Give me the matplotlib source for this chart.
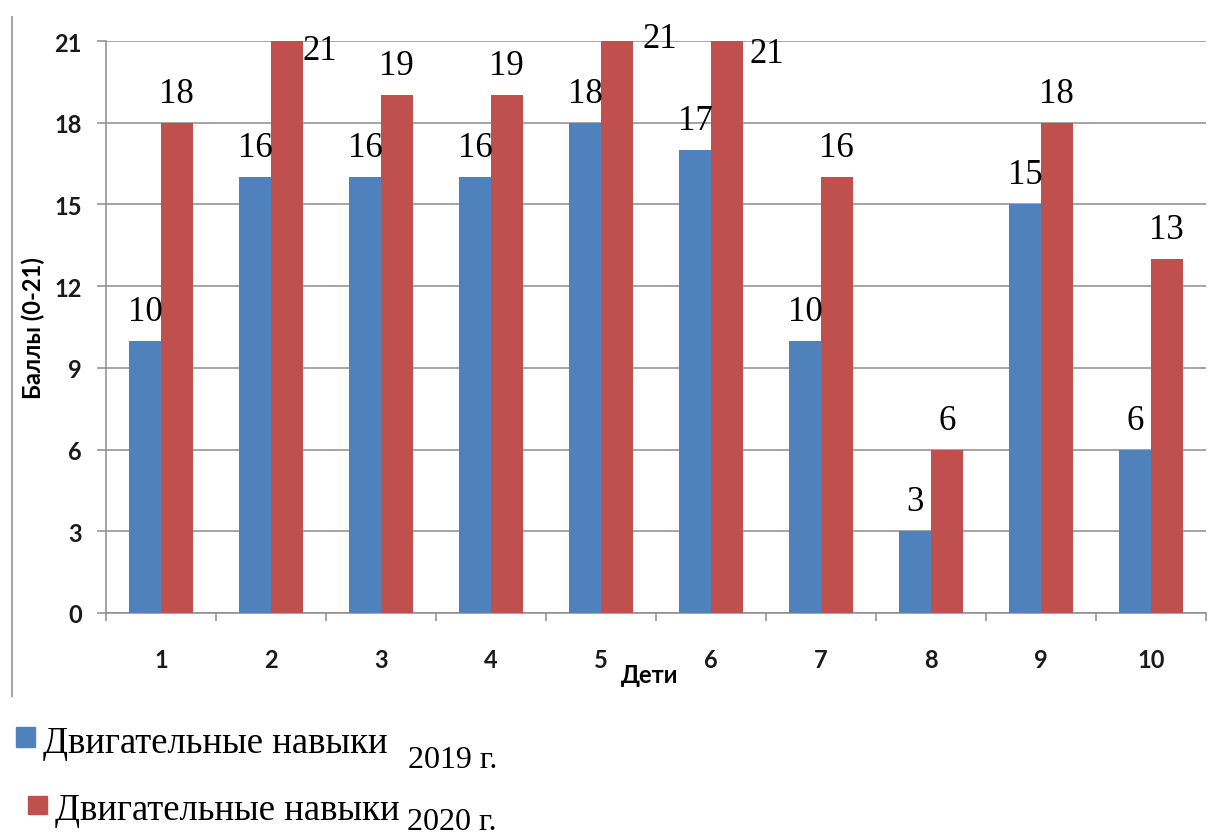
import matplotlib
matplotlib.use("Agg")
import matplotlib.pyplot as plt
from matplotlib.patches import Rectangle
from matplotlib.lines import Line2D
import numpy as np

# Data
children = ["1", "2", "3", "4", "5", "6", "7", "8", "9", "10"]
scores_2019 = [10, 16, 16, 16, 18, 17, 10, 3, 15, 6]
scores_2020 = [18, 21, 19, 19, 21, 21, 16, 6, 18, 13]
y_ticks = [0, 3, 6, 9, 12, 15, 18, 21]
series_name = "Двигательные навыки"
year_2019 = "2019 г."
year_2020 = "2020 г."
x_title = "Дети"
y_title = "Баллы (0-21)"

BLUE = "#4F81BD"
RED = "#C0504D"
GRID = "#8C8C8C"

W, H = 1216, 837
fig = plt.figure(figsize=(W / 100, H / 100), dpi=100)
fig.patch.set_facecolor("white")


def px(x, y):
    """Pixel position (from top-left) to figure fraction."""
    return x / W, 1 - y / H


ax = fig.add_axes([106 / W, 1 - 614 / H, 1100 / W, 572 / H])

sans = ["Lato", "Open Sans", "DejaVu Sans"]
serif = ["Liberation Serif", "DejaVu Serif"]
TICK_FS = 17

x = np.arange(len(children))
w = 0.287
bars_a = ax.bar(x - w / 2, scores_2019, width=w, color=BLUE, zorder=3)
bars_b = ax.bar(x + w / 2, scores_2020, width=w, color=RED, zorder=3)

ax.set_xlim(-0.5, len(children) - 0.5)
ax.set_ylim(0, 21)
ax.set_yticks(y_ticks)
ax.set_yticklabels([str(v) for v in y_ticks], fontfamily=sans,
                   fontweight="bold", fontsize=TICK_FS, color="#1a1a1a")
ax.set_xticks(x)
ax.set_xticklabels(children, fontfamily=sans, fontweight="bold",
                   fontsize=TICK_FS, color="#1a1a1a")
ax.set_xticks(np.arange(-0.5, len(children)), minor=True)

ax.tick_params(axis="y", which="major", length=6.5, width=1.1,
               color=GRID, pad=11)
ax.tick_params(axis="x", which="major", length=0, pad=25)
ax.tick_params(axis="x", which="minor", length=6, width=1.1, color=GRID)

ax.yaxis.grid(True, color=GRID, linewidth=1.1, zorder=0)
ax.set_axisbelow(True)
for side in ("top", "right"):
    ax.spines[side].set_visible(False)
for side in ("left", "bottom"):
    ax.spines[side].set_color(GRID)
    ax.spines[side].set_linewidth(1.1)

ax.set_xlabel(x_title, fontfamily=sans, fontweight="bold", fontsize=TICK_FS)
ax.xaxis.set_label_coords((650 - 106) / 1100, -(676 - 614) / 572)
ax.xaxis.label.set_verticalalignment("center")
ax.set_ylabel(y_title, fontfamily=sans, fontweight="bold", fontsize=TICK_FS)
ax.yaxis.set_label_coords((33 - 106) / 1100, 0.5)
ax.yaxis.label.set_verticalalignment("center")

# Value labels above bars (px offsets converted to points)
pt = 0.72
label_kw = dict(fontfamily=serif, fontsize=25, color="black",
                textcoords="offset points", zorder=5)
for bars, vals in ((bars_a, scores_2019), (bars_b, scores_2020)):
    for b, v in zip(bars, vals):
        if v >= 21:
            continue
        cx = b.get_x() + b.get_width() / 2
        ax.annotate(str(v), xy=(cx, v), xytext=(0, 21 * pt),
                    ha="center", va="baseline", **label_kw)

# Labels of full-score bars sit beside the bar
side_offsets = {1: (0, -18), 4: (10, -6), 5: (7, -21)}
for i, v in enumerate(scores_2020):
    if v >= 21:
        b = bars_b[i]
        dx, dy = side_offsets.get(i, (4, -10))
        ax.annotate(str(v), xy=(b.get_x() + b.get_width(), v),
                    xytext=(dx * pt, dy * pt), ha="left", va="baseline",
                    annotation_clip=False, **label_kw)

# Left frame line
fig.add_artist(Line2D([px(12, 0)[0]] * 2, [px(0, 18)[1], px(0, 697)[1]],
                      color="#A6A6A6", linewidth=1.5))

# Legend
for (x0, y0, x1, y1), color in (((16, 728, 35, 748), BLUE),
                                ((28, 797, 47, 815), RED)):
    fx, fy = px(x0, y1)
    fig.add_artist(Rectangle((fx, fy), (x1 - x0) / W, (y1 - y0) / H,
                             transform=fig.transFigure, color=color))

fig.text(*px(43, 753), series_name, fontfamily=serif, fontsize=26.5,
         ha="left", va="baseline")
fig.text(*px(55, 820), series_name, fontfamily=serif, fontsize=26.5,
         ha="left", va="baseline")
fig.text(*px(408, 768), year_2019, fontfamily=serif, fontsize=23,
         ha="left", va="baseline")
fig.text(*px(407, 830), year_2020, fontfamily=serif, fontsize=23,
         ha="left", va="baseline")

fig.savefig("out.png", dpi=100, facecolor="white")
